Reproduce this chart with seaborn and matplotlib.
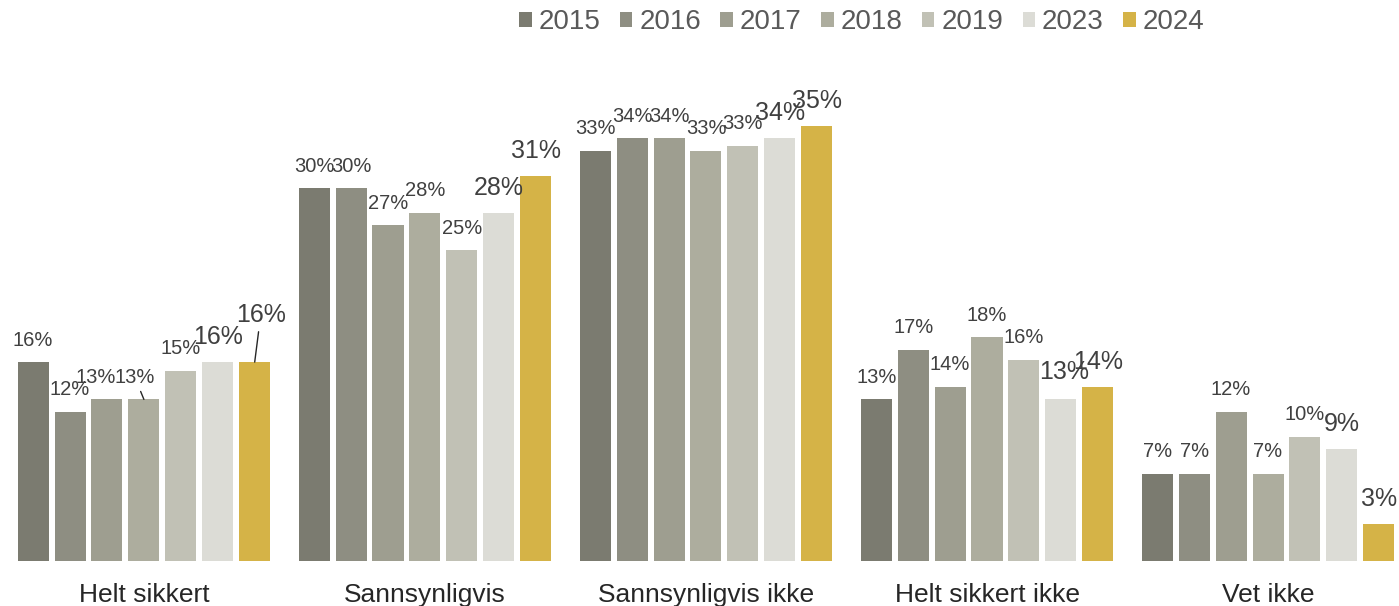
import pandas as pd
import matplotlib
matplotlib.use("Agg")
import matplotlib.pyplot as plt
import seaborn as sns

# Data (percent)
categories = ["Helt sikkert", "Sannsynligvis", "Sannsynligvis ikke", "Helt sikkert ikke", "Vet ikke"]
years = ["2015", "2016", "2017", "2018", "2019", "2023", "2024"]
values = {
    "2015": [16, 30, 33, 13, 7],
    "2016": [12, 30, 34, 17, 7],
    "2017": [13, 27, 34, 14, 12],
    "2018": [13, 28, 33, 18, 7],
    "2019": [15.3, 25, 33.4, 16.2, 10],
    "2023": [16, 28, 34, 13, 9],
    "2024": [16, 31, 35, 14, 3],
}
colors = ["#7b7b70", "#8e8e82", "#9e9e90", "#adad9e", "#c1c1b5", "#dcdcd6", "#d5b347"]

rows = [(c, y, values[y][i]) for y in years for i, c in enumerate(categories)]
df = pd.DataFrame(rows, columns=["category", "year", "value"])

sns.set_style("white")
plt.rcParams['font.family'] = ['Liberation Sans', 'DejaVu Sans']

fig = plt.figure(figsize=(13.99, 6.06), dpi=100)
ax = fig.add_axes([0, 45 / 606, 1, 501 / 606])

sns.barplot(data=df, x="category", y="value", hue="year", order=categories,
            hue_order=years, palette=colors, width=0.92, gap=0.16,
            saturation=1, edgecolor="none", legend=True, ax=ax)

ax.set_xlim(-0.512, 4.466)
ax.set_ylim(0, 40.3)
ax.set_xlabel("")
ax.set_ylabel("")
ax.set_yticks([])
for s in ax.spines.values():
    s.set_visible(False)
ax.tick_params(axis="x", length=0, pad=16, labelsize=19, labelcolor="#262626")

# label tweaks (pixel offsets) where the original labels were nudged
nudges = {
    ("Helt sikkert", "2017"): (-11, 0, False),
    ("Helt sikkert", "2018"): (-9, 0, True),
    ("Helt sikkert", "2024"): (6, 22, True),
    ("Helt sikkert ikke", "2023"): (3, 2, False),
}

for yi, (year, cont) in enumerate(zip(years, ax.containers)):
    big = year in ("2023", "2024")
    for ci, bar in enumerate(cont):
        v = values[year][ci]
        xc = bar.get_x() + bar.get_width() / 2
        dx, dy, leader = nudges.get((categories[ci], year), (0, 0, False))
        base = 25 if big else 22
        kw = {}
        if leader:
            kw["arrowprops"] = dict(arrowstyle="-", color="#262626", lw=1,
                                    shrinkA=1, shrinkB=0)
        ax.annotate(f"{round(v)}%", xy=(xc, v), xytext=(dx, base + dy),
                    textcoords="offset pixels", ha="center", va="center",
                    fontsize=18 if big else 14.5, color="#404040", **kw)

leg = ax.legend(loc="center", bbox_to_anchor=(0.616, 1.0 + (60 - 22) / 501),
                ncol=7, frameon=False, fontsize=20, handlelength=0.45,
                handleheight=0.45, handletextpad=0.25, columnspacing=0.7,
                borderaxespad=0)
for t in leg.get_texts():
    t.set_color("#595959")

fig.savefig("out.png", dpi=100)
